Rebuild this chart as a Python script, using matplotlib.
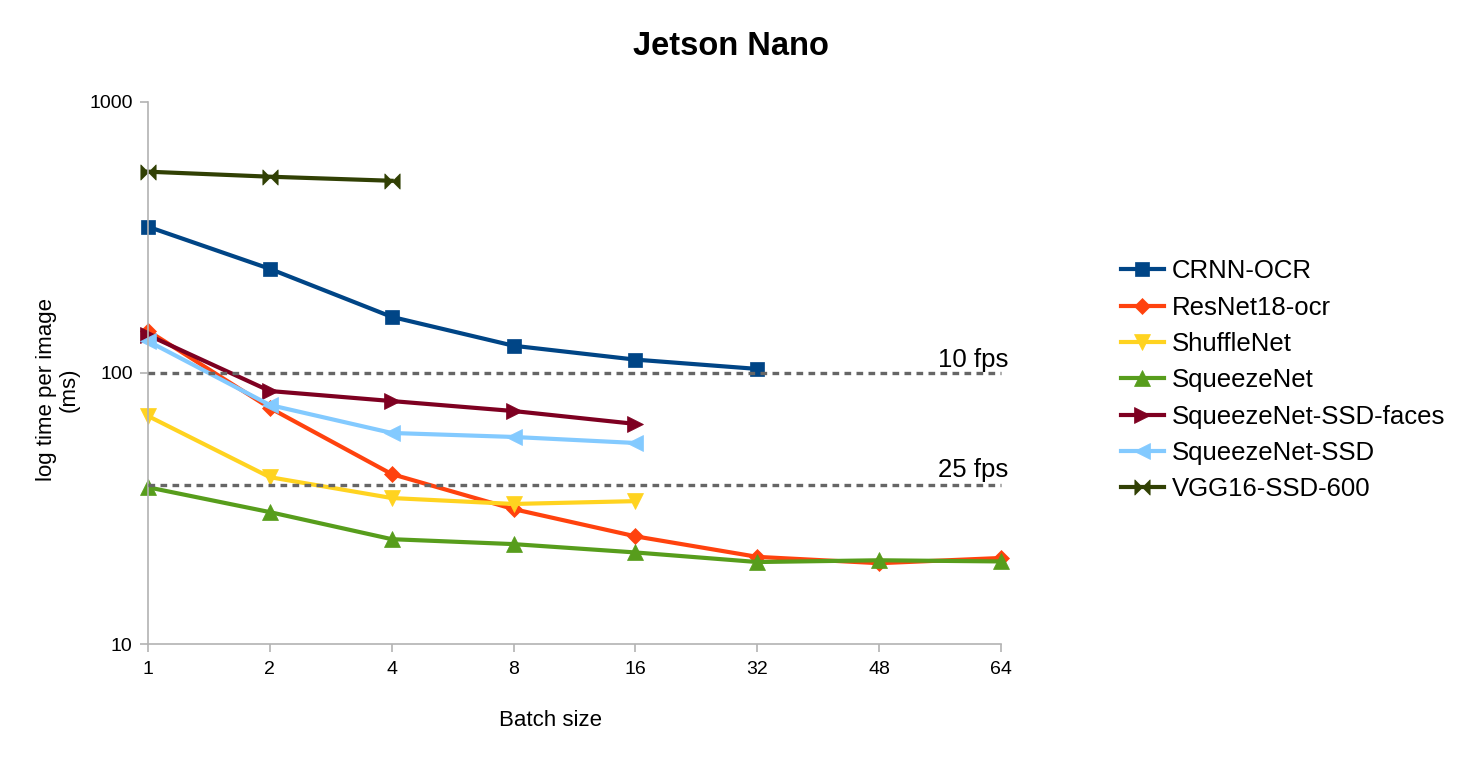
import matplotlib
matplotlib.use("Agg")
import matplotlib.pyplot as plt
from matplotlib.path import Path

plt.rcParams['font.family'] = ['Liberation Sans', 'DejaVu Sans']

batch_sizes = ["1", "2", "4", "8", "16", "32", "48", "64"]

crnn_ocr = [346, 242, 161, 126, 112, 103.5]
resnet18_ocr = [143, 74.3, 42.4, 31.5, 25.0, 21.0, 19.9, 20.8]
shufflenet = [69.4, 41.3, 34.6, 32.9, 33.7]
squeezenet = [37.9, 30.7, 24.4, 23.4, 21.8, 20.1, 20.4, 20.2]
squeezenet_ssd_faces = [138, 85.8, 78.8, 72.4, 64.9]
squeezenet_ssd = [131, 76.2, 60.1, 58.1, 55.2]
vgg16_ssd_600 = [552, 529, 511]

fps_10 = [100] * 8
fps_25 = [38.5] * 8

# bow-tie marker for VGG16 (two triangles tip to tip)
bowtie = Path([(-1, -1), (0, 0), (-1, 1), (-1, -1),
               (1, -1), (0, 0), (1, 1), (1, -1)],
              [Path.MOVETO, Path.LINETO, Path.LINETO, Path.CLOSEPOLY,
               Path.MOVETO, Path.LINETO, Path.LINETO, Path.CLOSEPOLY])

series = [
    ("CRNN-OCR", crnn_ocr, "#004586", "s", 10),
    ("ResNet18-ocr", resnet18_ocr, "#ff420e", "D", 8.5),
    ("ShuffleNet", shufflenet, "#ffd320", "v", 11),
    ("SqueezeNet", squeezenet, "#579d1c", "^", 11),
    ("SqueezeNet-SSD-faces", squeezenet_ssd_faces, "#7e0021", ">", 11),
    ("SqueezeNet-SSD", squeezenet_ssd, "#83caff", "<", 11),
    ("VGG16-SSD-600", vgg16_ssd_600, "#314004", bowtie, 11),
]

fig = plt.figure(figsize=(14.61, 7.57), dpi=100)
ax = fig.add_axes([0.1013, 0.1489, 0.5838, 0.7168])

for name, vals, color, marker, ms in series:
    ax.plot(range(len(vals)), vals, color=color, lw=3, marker=marker,
            markersize=ms, markerfacecolor=color, markeredgecolor=color,
            markeredgewidth=0.5, label=name, clip_on=False)

ax.plot(range(len(fps_10)), fps_10, color="#666666", lw=2.4,
        linestyle=(0, (2, 1.6)), zorder=5, clip_on=False)
ax.plot(range(len(fps_25)), fps_25, color="#666666", lw=2.4,
        linestyle=(0, (2, 1.6)), zorder=5, clip_on=False)

ax.annotate("10 fps", (7.06, fps_10[-1]), xytext=(0, 4), textcoords="offset points",
            ha="right", va="baseline", fontsize=18.5, annotation_clip=False)
ax.annotate("25 fps", (7.06, fps_25[-1]), xytext=(0, 6), textcoords="offset points",
            ha="right", va="baseline", fontsize=18.5, annotation_clip=False)

ax.set_yscale("log")
ax.set_ylim(10, 1000)
ax.set_xlim(0, 7)
ax.set_yticks([10, 100, 1000])
ax.set_yticklabels(["10", "100", "1000"])
ax.minorticks_off()
ax.set_xticks(range(len(batch_sizes)))
ax.set_xticklabels(batch_sizes)

for side in ["top", "right"]:
    ax.spines[side].set_visible(False)
for side in ["left", "bottom"]:
    ax.spines[side].set_color("#b3b3b3")
    ax.spines[side].set_linewidth(1.2)
ax.tick_params(axis="both", colors="#b3b3b3", labelcolor="black",
               length=6, width=1.2, labelsize=14, direction="out")
ax.tick_params(axis="y", pad=5)
ax.tick_params(axis="x", pad=6)

ax.set_xlabel("Batch size", fontsize=16)
ax.xaxis.set_label_coords(0.472, -0.122)
ax.set_ylabel("log time per image\n(ms)", fontsize=16, linespacing=1.1)
ax.yaxis.set_label_coords(-0.08, 0.47)

fig.text(0.5, 0.938, "Jetson Nano", ha="center", va="center",
         fontsize=23.5, fontweight="bold")

fig.legend(loc="center left", bbox_to_anchor=(0.767, 0.4975), frameon=False,
           fontsize=18.5, handlelength=1.7, handletextpad=0.3, labelspacing=0.48,
           borderpad=0, borderaxespad=0)

fig.savefig("out.png", dpi=100)
